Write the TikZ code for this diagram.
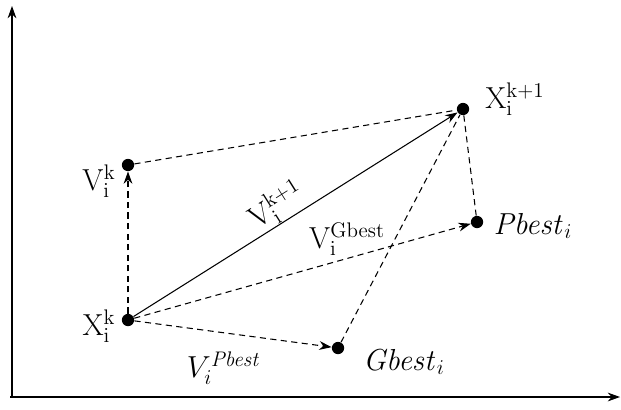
\documentclass[tikz,border=0pt]{standalone}
\usetikzlibrary{arrows.meta}
\tikzset{
  punto/.style={circle,fill=black,inner sep=0pt,minimum size=7pt},
  etiq/.style={font=\LARGE,inner sep=0pt},
  traza/.style={dashed,dash pattern=on 3.5pt off 2.5pt,line width=0.6pt},
  flecha/.style={-{Stealth[length=7pt,width=5pt]}}
}
\begin{document}
\begin{tikzpicture}[x=0.02cm,y=-0.02cm]
  \useasboundingbox (0,0) rectangle (621,409);
  % Ejes
  \draw[line width=0.6pt,-{Stealth[length=7pt,width=5pt]}] (12,397) -- (12,6);
  \draw[line width=0.6pt,-{Stealth[length=7pt,width=5pt]}] (10,397) -- (620,397);
  % Puntos
  \node[punto] (xk) at (128,320) {};
  \node[punto] (vk) at (128,165) {};
  \node[punto] (xk1) at (463,109) {};
  \node[punto] (pbest) at (477,222) {};
  \node[punto] (gbest) at (338,348) {};
  % Etiquetas
  \node[etiq] (lxk) at (99,326) {$\mathrm{X}_{\mathrm{i}}^{\mathrm{k}}$};
  \node[etiq] (lvk) at (99,181) {$\mathrm{V}_{\mathrm{i}}^{\mathrm{k}}$};
  \node[etiq] (lxk1) at (515,99) {$\mathrm{X}_{\mathrm{i}}^{\mathrm{k+1}}$};
  \node[etiq] (lpbest) at (533,226) {$\mathit{Pbest}_i$};
  \node[etiq] (lgbest) at (404,362) {$\mathit{Gbest}_i$};
  \node[etiq] (lvp) at (224,368) {$V_i^{\mathit{Pbest}}$};
  \node[etiq] (lvg) at (347,239) {$\mathrm{V}_{\mathrm{i}}^{\mathrm{Gbest}}$};
  % Vectores
  \draw[traza,flecha] (xk) -- (vk);
  \draw[traza] (vk) -- (xk1);
  \draw[line width=0.6pt,flecha] (xk) -- node[etiq,pos=0.47,sloped,above,inner sep=0pt] (lvk1) {$\mathrm{V}_{\mathrm{i}}^{\mathrm{k+1}}$} (xk1);
  \draw[traza,flecha] (xk) -- (pbest);
  \draw[traza,flecha] (xk) -- (gbest);
  \draw[traza] (gbest) -- (xk1);
  \draw[traza] (xk1) -- (pbest);
\end{tikzpicture}
\end{document}
